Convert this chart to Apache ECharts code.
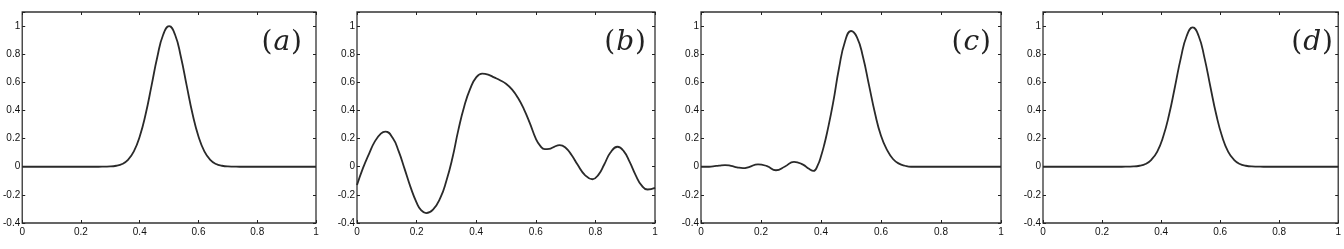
<!DOCTYPE html>
<html>
<head>
<meta charset="utf-8">
<script src="https://cdn.jsdelivr.net/npm/echarts@6/dist/echarts.min.js"></script>
<style>
html,body{margin:0;padding:0;background:#fff;}
#chart{width:1344px;height:249px;}
</style>
</head>
<body>
<div id="chart"></div>
<script>
// (a) 原始信号
const xA = [0, 0.1, 0.2, 0.26, 0.28, 0.30, 0.32, 0.34, 0.36, 0.38, 0.40, 0.42, 0.44, 0.46, 0.48, 0.50,
  0.52, 0.54, 0.56, 0.58, 0.60, 0.62, 0.64, 0.66, 0.68, 0.70, 0.72, 0.74, 0.8, 0.9, 1]
const yA = [0, 0, 0, 0, 0.001, 0.002, 0.007, 0.019, 0.049, 0.109, 0.215, 0.373, 0.575, 0.782, 0.940, 1.0,
  0.940, 0.782, 0.575, 0.373, 0.215, 0.109, 0.049, 0.019, 0.007, 0.002, 0.001, 0, 0, 0, 0]

// (b)
const xB = [0, 0.02, 0.04, 0.06, 0.08, 0.095, 0.12, 0.14, 0.16, 0.18, 0.20, 0.215, 0.232,
  0.255, 0.28, 0.30, 0.32, 0.34, 0.36, 0.38, 0.40, 0.42, 0.44, 0.46, 0.48, 0.50, 0.52, 0.54, 0.56, 0.58,
  0.60, 0.615, 0.63, 0.645, 0.66, 0.68, 0.70, 0.72, 0.74, 0.765, 0.79, 0.81, 0.83, 0.85, 0.874,
  0.895, 0.915, 0.935, 0.955, 0.975, 1]
const yB = [-0.13, -0.01, 0.09, 0.18, 0.235, 0.25, 0.204, 0.109, -0.017, -0.147, -0.255, -0.308, -0.33,
  -0.305, -0.22, -0.10, 0.06, 0.26, 0.43, 0.555, 0.635, 0.662, 0.655, 0.635, 0.615, 0.59, 0.55, 0.49, 0.41, 0.31,
  0.20, 0.148, 0.125, 0.127, 0.14, 0.154, 0.135, 0.083, 0.015, -0.059, -0.089, -0.058, 0.018, 0.099, 0.142,
  0.111, 0.034, -0.059, -0.133, -0.162, -0.15]

// (c)
const xC = [0, 0.02, 0.04, 0.06, 0.08, 0.10, 0.12, 0.14, 0.16, 0.19, 0.22, 0.25, 0.28, 0.31, 0.34, 0.36, 0.375,
  0.39, 0.40, 0.41, 0.42, 0.44, 0.46, 0.48, 0.50, 0.52, 0.54, 0.56, 0.58, 0.60, 0.62, 0.64, 0.66, 0.68, 0.70,
  0.75, 0.8, 0.9, 1]
const yC = [0, 0, 0.003, 0.008, 0.012, 0.006, -0.004, -0.01, -0.002, 0.017, 0.004, -0.025, 0.002, 0.035, 0.015, -0.015, -0.03,
  0.015, 0.075, 0.15, 0.24, 0.45, 0.70, 0.89, 0.965, 0.92, 0.78, 0.58, 0.38, 0.22, 0.12, 0.055, 0.022, 0.007, 0,
  0, 0, 0, 0]

// (d)
const xD = [0, 0.1, 0.2, 0.267, 0.287, 0.307, 0.327, 0.347, 0.367, 0.387, 0.407, 0.427, 0.447, 0.467, 0.487, 0.507,
  0.527, 0.547, 0.567, 0.587, 0.607, 0.627, 0.647, 0.667, 0.687, 0.707, 0.727, 0.747, 0.8, 0.9, 1]
const yD = [0, 0, 0, 0, 0.001, 0.002, 0.007, 0.019, 0.049, 0.108, 0.213, 0.369, 0.569, 0.774, 0.931, 0.99,
  0.931, 0.774, 0.569, 0.369, 0.213, 0.108, 0.049, 0.019, 0.007, 0.002, 0.001, 0, 0, 0, 0]

const panelLabels = ['a', 'b', 'c', 'd']
const panelX = [xA, xB, xC, xD]
const panelY = [yA, yB, yC, yD]

// 每个子图的位置
const gridLeft = [16, 357, 701, 1043]
const gridWidth = [300, 298, 300, 300]
const labelRight = [14, 9, 10, 10]

const xMin = 0, xMax = 1, xStep = 0.2
const yMin = -0.4, yMax = 1.1, yStep = 0.2

const chart = echarts.init(document.getElementById('chart'))

let grids = [], xAxes = [], yAxes = [], series = [], labels = []
panelLabels.forEach((lab, i) => {
  grids.push({
    left: gridLeft[i], top: 12, width: gridWidth[i], height: 211,
    show: true, borderColor: '#333', borderWidth: 1.3, backgroundColor: '#fff'
  })
  let tick = { show: true, inside: true, length: 3, lineStyle: { color: '#222', width: 1 } }
  // 下、上 x轴
  xAxes.push({
    gridIndex: i, type: 'value', min: xMin, max: xMax, interval: xStep, position: 'bottom',
    axisLine: { show: false, onZero: false }, axisTick: tick, splitLine: { show: false },
    axisLabel: { color: '#111', fontSize: 10, fontFamily: 'Liberation Sans', margin: 4 }
  })
  xAxes.push({
    gridIndex: i, type: 'value', min: xMin, max: xMax, interval: xStep, position: 'top',
    axisLine: { show: false, onZero: false }, axisTick: tick, splitLine: { show: false },
    axisLabel: { show: false }
  })
  // 左、右 y轴
  yAxes.push({
    gridIndex: i, type: 'value', min: yMin, max: yMax, interval: yStep, position: 'left',
    axisLine: { show: false, onZero: false }, axisTick: tick, splitLine: { show: false },
    axisLabel: {
      color: '#111', fontSize: 10, fontFamily: 'Liberation Sans', margin: 2,
      formatter: v => (v > 1.05 ? '' : String(Math.round(v * 10) / 10))
    }
  })
  yAxes.push({
    gridIndex: i, type: 'value', min: yMin, max: yMax, interval: yStep, position: 'right',
    axisLine: { show: false, onZero: false }, axisTick: tick, splitLine: { show: false },
    axisLabel: { show: false }
  })
  series.push({
    type: 'line', xAxisIndex: i * 2, yAxisIndex: i * 2, smooth: true, symbol: 'none',
    lineStyle: { color: '#2a2a2a', width: 1.8 },
    data: panelX[i].map((x, k) => [x, panelY[i][k]])
  })
  // 子图标号 (a)(b)(c)(d)
  labels.push({
    type: 'text',
    right: 1344 - gridLeft[i] - gridWidth[i] + labelRight[i],
    top: 29,
    style: {
      text: '{p|(}{i|' + lab + '}{p|)}',
      rich: {
        p: { fontFamily: 'DejaVu Serif', fontSize: 28, fill: '#222' },
        i: { fontFamily: 'DejaVu Serif', fontStyle: 'italic', fontSize: 28, fill: '#222', padding: [0, 1, 0, 1] }
      }
    }
  })
})

chart.setOption({
  animation: false,
  grid: grids,
  xAxis: xAxes,
  yAxis: yAxes,
  series: series,
  graphic: labels
})
</script>
</body>
</html>
